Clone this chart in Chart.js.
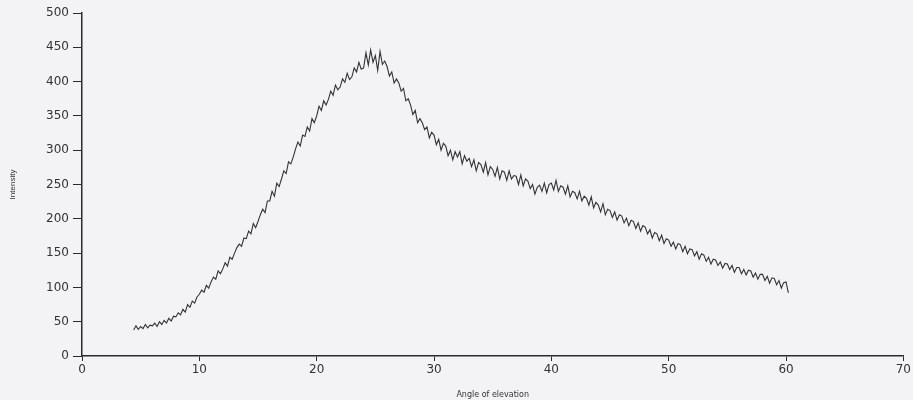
<!DOCTYPE html>
<html>
<head>
<meta charset="utf-8">
<script src="https://cdn.jsdelivr.net/npm/chart.js@4.4.1/dist/chart.umd.min.js"></script>
<style>
    html, body { margin: 0; padding: 0; background: #f3f3f6; }
    #wrap { width: 913px; height: 400px; position: relative; }
</style>
</head>
<body>
<div id="wrap"><canvas id="scanChart"></canvas></div>
<script>
// Angle of elevation (degrees), sampled every 0.2
const angles = [
    4.4, 4.6, 4.8,
    5.0, 5.2, 5.4, 5.6, 5.8, 6.0, 6.2, 6.4, 6.6, 6.8,
    7.0, 7.2, 7.4, 7.6, 7.8, 8.0, 8.2, 8.4, 8.6, 8.8,
    9.0, 9.2, 9.4, 9.6, 9.8, 10.0, 10.2, 10.4, 10.6, 10.8,
    11.0, 11.2, 11.4, 11.6, 11.8, 12.0, 12.2, 12.4, 12.6, 12.8,
    13.0, 13.2, 13.4, 13.6, 13.8, 14.0, 14.2, 14.4, 14.6, 14.8,
    15.0, 15.2, 15.4, 15.6, 15.8, 16.0, 16.2, 16.4, 16.6, 16.8,
    17.0, 17.2, 17.4, 17.6, 17.8, 18.0, 18.2, 18.4, 18.6, 18.8,
    19.0, 19.2, 19.4, 19.6, 19.8, 20.0, 20.2, 20.4, 20.6, 20.8,
    21.0, 21.2, 21.4, 21.6, 21.8, 22.0, 22.2, 22.4, 22.6, 22.8,
    23.0, 23.2, 23.4, 23.6, 23.8, 24.0, 24.2, 24.4, 24.6, 24.8,
    25.0, 25.2, 25.4, 25.6, 25.8, 26.0, 26.2, 26.4, 26.6, 26.8,
    27.0, 27.2, 27.4, 27.6, 27.8, 28.0, 28.2, 28.4, 28.6, 28.8,
    29.0, 29.2, 29.4, 29.6, 29.8, 30.0, 30.2, 30.4, 30.6, 30.8,
    31.0, 31.2, 31.4, 31.6, 31.8, 32.0, 32.2, 32.4, 32.6, 32.8,
    33.0, 33.2, 33.4, 33.6, 33.8, 34.0, 34.2, 34.4, 34.6, 34.8,
    35.0, 35.2, 35.4, 35.6, 35.8, 36.0, 36.2, 36.4, 36.6, 36.8,
    37.0, 37.2, 37.4, 37.6, 37.8, 38.0, 38.2, 38.4, 38.6, 38.8,
    39.0, 39.2, 39.4, 39.6, 39.8, 40.0, 40.2, 40.4, 40.6, 40.8,
    41.0, 41.2, 41.4, 41.6, 41.8, 42.0, 42.2, 42.4, 42.6, 42.8,
    43.0, 43.2, 43.4, 43.6, 43.8, 44.0, 44.2, 44.4, 44.6, 44.8,
    45.0, 45.2, 45.4, 45.6, 45.8, 46.0, 46.2, 46.4, 46.6, 46.8,
    47.0, 47.2, 47.4, 47.6, 47.8, 48.0, 48.2, 48.4, 48.6, 48.8,
    49.0, 49.2, 49.4, 49.6, 49.8, 50.0, 50.2, 50.4, 50.6, 50.8,
    51.0, 51.2, 51.4, 51.6, 51.8, 52.0, 52.2, 52.4, 52.6, 52.8,
    53.0, 53.2, 53.4, 53.6, 53.8, 54.0, 54.2, 54.4, 54.6, 54.8,
    55.0, 55.2, 55.4, 55.6, 55.8, 56.0, 56.2, 56.4, 56.6, 56.8,
    57.0, 57.2, 57.4, 57.6, 57.8, 58.0, 58.2, 58.4, 58.6, 58.8,
    59.0, 59.2, 59.4, 59.6, 59.8, 60.0, 60.2
];

// Intensity, same order as angles
const intensity = [
    38, 44, 39,
    43, 40, 46, 41, 45, 44, 48, 43, 50, 46,
    52, 48, 55, 51, 58, 57, 63, 60, 68, 64,
    75, 71, 80, 77, 86, 90, 96, 93, 103, 99,
    108, 115, 112, 124, 120, 127, 136, 131, 144, 141,
    150, 158, 163, 160, 172, 171, 182, 178, 193, 187,
    196, 206, 214, 209, 226, 226, 240, 233, 252, 247,
    258, 270, 266, 283, 280, 290, 302, 312, 306, 322,
    320, 334, 328, 346, 340, 350, 364, 358, 372, 366,
    374, 386, 380, 395, 388, 392, 404, 399, 412, 403,
    407, 420, 414, 428, 418, 420, 442, 424, 446, 428,
    438, 416, 444, 425, 430, 422, 408, 414, 398, 404,
    398, 386, 390, 372, 375, 366, 352, 358, 340, 346,
    340, 330, 334, 318, 326, 322, 308, 316, 300, 310,
    306, 292, 300, 286, 298, 290, 298, 280, 292, 284,
    288, 276, 286, 270, 282, 279, 268, 282, 264, 276,
    272, 262, 275, 258, 270, 268, 256, 270, 258, 263,
    262, 250, 264, 248, 258, 255, 244, 250, 236, 246,
    249, 240, 252, 238, 250, 252, 242, 256, 240, 248,
    246, 236, 248, 232, 240, 238, 229, 240, 226, 233,
    230, 220, 232, 216, 224, 220, 210, 222, 206, 214,
    212, 202, 210, 198, 206, 204, 194, 201, 190, 198,
    196, 186, 194, 182, 190, 188, 178, 184, 172, 180,
    178, 168, 176, 164, 171, 169, 160, 166, 156, 164,
    162, 152, 160, 149, 156, 155, 146, 152, 141, 149,
    147, 138, 144, 134, 141, 140, 132, 137, 128, 135,
    134, 126, 132, 122, 129, 129, 120, 126, 118, 125,
    124, 115, 121, 112, 119, 119, 110, 116, 106, 114,
    113, 104, 110, 99, 107, 108, 92
];

const xTicks = [0, 10, 20, 30, 40, 50, 60, 70];
const yTicks = [0, 50, 100, 150, 200, 250, 300, 350, 400, 450, 500];

const INK = '#2b2b2b';
const TICK_FONT = { family: 'DejaVu Sans', size: 12 };

document.addEventListener('DOMContentLoaded', () => {
    const points = angles.map((a, i) => ({ x: a, y: intensity[i] }));

    const ctx = document.getElementById('scanChart').getContext('2d');
    new Chart(ctx, {
        type: 'line',
        data: {
            datasets: [{
                label: 'Intensity',
                data: points,
                borderColor: '#333',
                borderWidth: 1.1,
                pointRadius: 0,
                tension: 0,
                fill: false
            }]
        },
        options: {
            responsive: true,
            maintainAspectRatio: false,
            animation: false,
            layout: { padding: { top: 13, right: 9, left: 0, bottom: 0 } },
            plugins: {
                legend: { display: false },
                tooltip: { enabled: false }
            },
            scales: {
                x: {
                    type: 'linear',
                    min: 0,
                    max: 70,
                    afterBuildTicks: (scale) => { scale.ticks = xTicks.map(v => ({ value: v })); },
                    afterFit: (scale) => { scale.height = 44; },
                    grid: { drawOnChartArea: false, tickLength: 5, color: INK, lineWidth: 1 },
                    border: { color: INK, width: 1.5 },
                    ticks: { color: '#333', font: TICK_FONT, padding: 2, maxRotation: 0 },
                    title: {
                        display: true,
                        text: 'Angle of elevation',
                        color: '#333',
                        font: { family: 'DejaVu Sans', size: 8 },
                        padding: { top: 4, bottom: 0 }
                    }
                },
                y: {
                    min: 0,
                    max: 500,
                    afterBuildTicks: (scale) => { scale.ticks = yTicks.map(v => ({ value: v })); },
                    afterFit: (scale) => { scale.width = 82; },
                    grid: { drawOnChartArea: false, tickLength: 9, color: INK, lineWidth: 1 },
                    border: { color: INK, width: 1.5 },
                    ticks: { color: '#333', font: TICK_FONT, padding: 4 },
                    title: {
                        display: true,
                        text: 'Intensity',
                        color: '#333',
                        font: { family: 'Liberation Sans Narrow, Liberation Sans', size: 8 },
                        padding: { top: 8, bottom: 8 }
                    }
                }
            }
        }
    });
});
</script>
</body>
</html>
